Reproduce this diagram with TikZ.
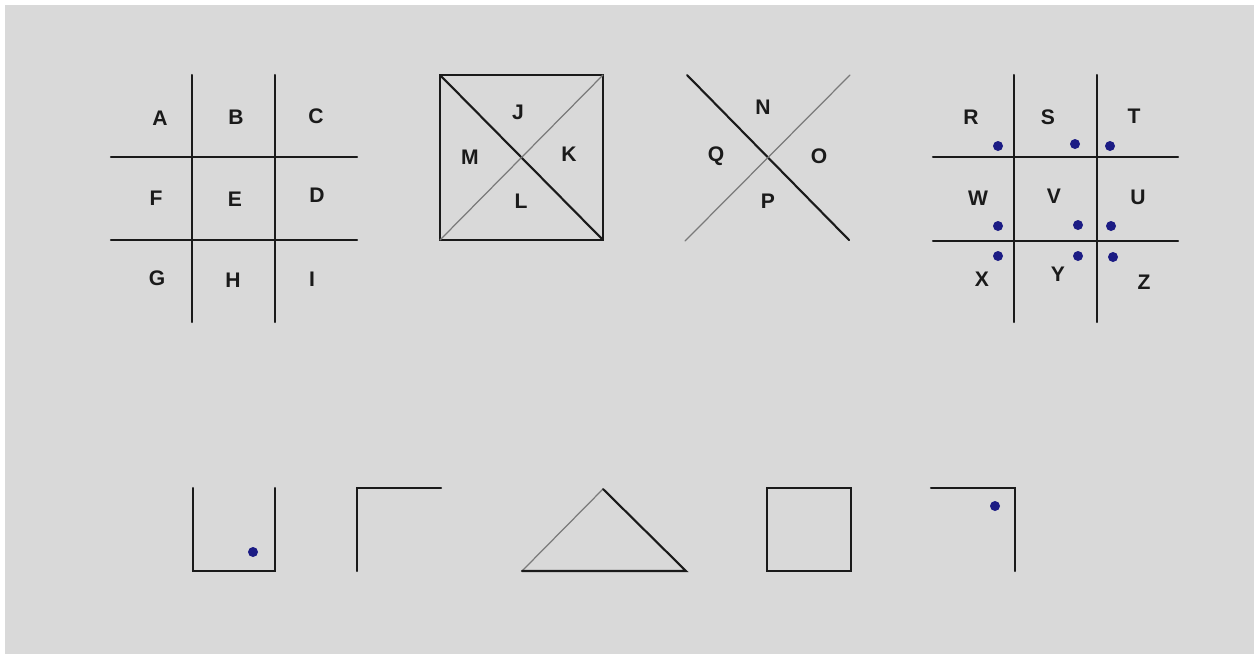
\documentclass[tikz,border=0pt]{standalone}
\usepackage{fontspec}
\setsansfont{Liberation Sans}
\usepackage{tikz}
\usetikzlibrary{positioning,calc}
\definecolor{paper}{HTML}{D9D9D9}
\definecolor{ink}{HTML}{1A1A1A}
\definecolor{faint}{HTML}{7A7A7A}
\definecolor{dotblue}{HTML}{1C1C84}

\begin{document}
\begin{tikzpicture}[x=0.02cm,y=-0.02cm,
 letter/.style={font=\fontsize{12}{14}\selectfont\sffamily\bfseries,text=ink,inner sep=0pt},
 stroke/.style={draw=ink,line width=1.2pt,line cap=round,line join=miter},
 thin/.style={draw=faint,line width=0.7pt,line cap=round},
 dot/.style={circle,fill=dotblue,draw=none,minimum size=0.2cm,inner sep=0pt}]
\useasboundingbox (0,0) rectangle (1254,654);
\fill[white] (0,0) rectangle (1254,654);
\fill[paper] (5,5) rectangle (1254,654);
% grid A-I
\coordinate (g1t1) at (192,75);  \coordinate (g1b1) at (192,322);
\coordinate (g1t2) at (275,75);  \coordinate (g1b2) at (275,322);
\coordinate (g1l1) at (111,157); \coordinate (g1r1) at (357,157);
\coordinate (g1l2) at (111,240); \coordinate (g1r2) at (357,240);
\draw[stroke] (g1t1) -- (g1b1);
\draw[stroke] (g1t2) -- (g1b2);
\draw[stroke] (g1l1) -- (g1r1);
\draw[stroke] (g1l2) -- (g1r2);
\node[letter] (A) at (160,118) {A};
\node[letter] (B) at (236,117) {B};
\node[letter] (C) at (316,116) {C};
\node[letter] (F) at (156,198) {F};
\node[letter] (E) at (235,199) {E};
\node[letter] (D) at (317,195) {D};
\node[letter] (G) at (157,278) {G};
\node[letter] (H) at (233,280) {H};
\node[letter] (I) at (312,279) {I};
% box J-M
\coordinate (bx1) at (440,75);
\coordinate (bx2) at (603,75);
\coordinate (bx3) at (603,240);
\coordinate (bx4) at (440,240);
\draw[stroke] (bx1) -- (bx2) -- (bx3) -- (bx4) -- cycle;
\draw[stroke] (bx1) -- (bx3);
\draw[thin] (bx4) -- (bx2);
\node[letter] (J) at (518,112) {J};
\node[letter] (M) at (470,157) {M};
\node[letter] (K) at (569,154) {K};
\node[letter] (L) at (521,201) {L};
% cross N-Q
\coordinate (cr1) at (687,75);
\coordinate (cr2) at (849,240);
\coordinate (cr3) at (685,241);
\coordinate (cr4) at (850,75);
\draw[stroke] (cr1) -- (cr2);
\draw[thin] (cr3) -- (cr4);
\node[letter] (N) at (763,107) {N};
\node[letter] (Q) at (716,156) {Q};
\node[letter] (O) at (819,156) {O};
\node[letter] (P) at (768,201) {P};
% dotted grid R-Z
\coordinate (g2t1) at (1014,75);  \coordinate (g2b1) at (1014,322);
\coordinate (g2t2) at (1097,75);  \coordinate (g2b2) at (1097,322);
\coordinate (g2l1) at (933,157);  \coordinate (g2r1) at (1178,157);
\coordinate (g2l2) at (933,241);  \coordinate (g2r2) at (1178,241);
\draw[stroke] (g2t1) -- (g2b1);
\draw[stroke] (g2t2) -- (g2b2);
\draw[stroke] (g2l1) -- (g2r1);
\draw[stroke] (g2l2) -- (g2r2);
\node[letter] (R) at (971,117) {R};
\node[letter] (S) at (1048,117) {S};
\node[letter] (T) at (1134,116) {T};
\node[letter] (W) at (978,198) {W};
\node[letter] (V) at (1054,196) {V};
\node[letter] (U) at (1138,197) {U};
\node[letter] (X) at (982,279) {X};
\node[letter] (Y) at (1058,274) {Y};
\node[letter] (Z) at (1144,282) {Z};
\node[dot] (dR) at (998,146) {};
\node[dot] (dS) at (1075,144) {};
\node[dot] (dT) at (1110,146) {};
\node[dot] (dW) at (998,226) {};
\node[dot] (dV) at (1078,225) {};
\node[dot] (dU) at (1111,226) {};
\node[dot] (dX) at (998,256) {};
\node[dot] (dY) at (1078,256) {};
\node[dot] (dZ) at (1113,257) {};
% shapes below
\coordinate (u1) at (193,488); \coordinate (u2) at (193,571);
\coordinate (u3) at (275,571); \coordinate (u4) at (275,488);
\draw[stroke] (u1) -- (u2) -- (u3) -- (u4);
\node[dot] (du) at (253,552) {};
\coordinate (c1) at (357,571); \coordinate (c2) at (357,488);
\coordinate (c3) at (441,488);
\draw[stroke] (c1) -- (c2) -- (c3);
\coordinate (t1) at (522,571); \coordinate (t2) at (603,489);
\coordinate (t3) at (686,571);
\draw[thin] (t1) -- (t2);
\draw[stroke] (t2) -- (t3) -- (t1);
\coordinate (s1) at (767,488); \coordinate (s2) at (851,488);
\coordinate (s3) at (851,571); \coordinate (s4) at (767,571);
\draw[stroke] (s1) -- (s2) -- (s3) -- (s4) -- cycle;
\coordinate (r1) at (931,488); \coordinate (r2) at (1015,488);
\coordinate (r3) at (1015,571);
\draw[stroke] (r1) -- (r2) -- (r3);
\node[dot] (dr) at (995,506) {};
\end{tikzpicture}
\end{document}
